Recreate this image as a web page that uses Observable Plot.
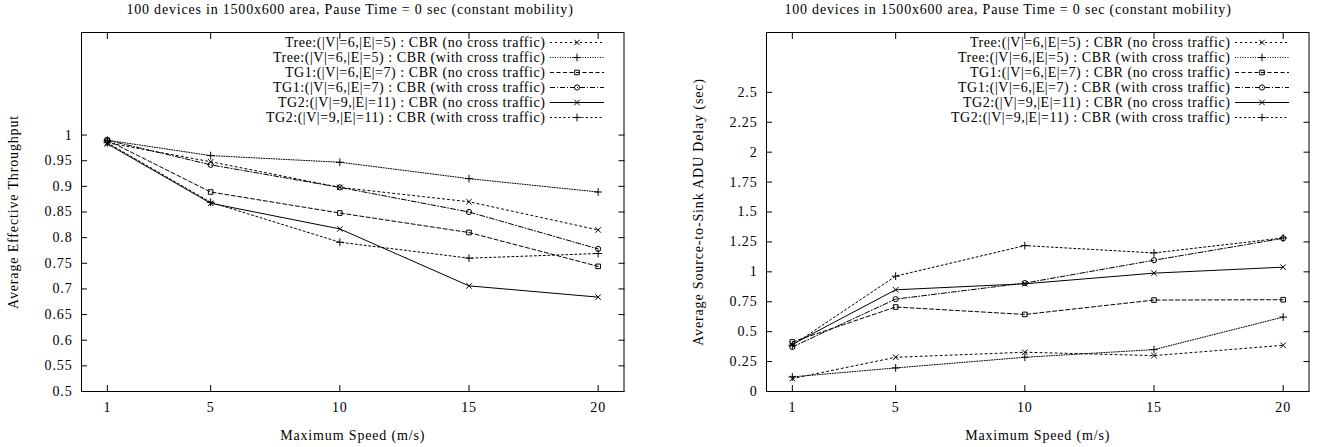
<!DOCTYPE html>
<html><head><meta charset="utf-8">
<script src="https://cdn.jsdelivr.net/npm/d3@7"></script>
<script src="https://cdn.jsdelivr.net/npm/@observablehq/plot@0.6"></script>
<style>
html,body{margin:0;padding:0;background:#fff;}
body{font-family:"Liberation Serif","Times New Roman",serif;color:#000;}
#wrap{position:relative;width:1327px;height:447px;overflow:hidden;}
.panel{position:absolute;top:0;}
.panel svg text{letter-spacing:0.85px;}
.title{position:absolute;top:2px;font-size:14px;line-height:16px;letter-spacing:0.8px;white-space:nowrap;transform:translateX(-50%);}
.legend{position:absolute;font-size:14px;letter-spacing:0.55px;}
.legend .row{display:flex;justify-content:flex-end;align-items:center;height:15px;line-height:15px;white-space:nowrap;}
.legend svg{margin-left:4px;display:block;}
</style></head><body><div id="wrap"></div>
<script>
// ---- data ----
const speeds = [1, 5, 10, 15, 20];
const seriesNames = [
  "Tree:(|V|=6,|E|=5) : CBR (no cross traffic)",
  "Tree:(|V|=6,|E|=5) : CBR (with cross traffic)",
  "TG1:(|V|=6,|E|=7) : CBR (no cross traffic)",
  "TG1:(|V|=6,|E|=7) : CBR (with cross traffic)",
  "TG2:(|V|=9,|E|=11) : CBR (no cross traffic)",
  "TG2:(|V|=9,|E|=11) : CBR (with cross traffic)"
];
// Left: Average Effective Throughput
const thrTreeNo   = [0.985, 0.948, 0.898, 0.870, 0.815];
const thrTreeWith = [0.990, 0.960, 0.947, 0.915, 0.889];
const thrTG1No    = [0.990, 0.889, 0.848, 0.810, 0.744];
const thrTG1With  = [0.990, 0.942, 0.898, 0.850, 0.778];
const thrTG2No    = [0.983, 0.867, 0.817, 0.706, 0.684];
const thrTG2With  = [0.985, 0.869, 0.791, 0.760, 0.769];
// Right: Average Source-to-Sink ADU Delay (sec)
const delTreeNo   = [0.108, 0.286, 0.328, 0.300, 0.386];
const delTreeWith = [0.122, 0.197, 0.286, 0.350, 0.622];
const delTG1No    = [0.414, 0.706, 0.644, 0.764, 0.767];
const delTG1With  = [0.372, 0.772, 0.906, 1.097, 1.280];
const delTG2No    = [0.394, 0.850, 0.900, 0.989, 1.039];
const delTG2With  = [0.386, 0.964, 1.219, 1.158, 1.283];

const titleText = "100 devices in 1500x600 area, Pause Time = 0 sec (constant mobility)";
const xLabel = "Maximum Speed (m/s)";
const yLabelLeft = "Average Effective Throughput";
const yLabelRight = "Average Source-to-Sink ADU Delay (sec)";
const yTicksLeft = [0.5,0.55,0.6,0.65,0.7,0.75,0.8,0.85,0.9,0.95,1];
const yTicksRight = [0,0.25,0.5,0.75,1,1.25,1.5,1.75,2,2.25,2.5];

// ---- styles (per series) ----
const dashes = ["2,3", "1,1.5", "4,2.5", "5,2,1,2", null, "2,2.5"];
const symbols = ["times", "plus", "square", "circle", "times", "plus"];
const symbolD3 = {times: d3.symbolTimes, plus: d3.symbolPlus, square: d3.symbolSquare, circle: d3.symbolCircle};
const R = 2.6;

function rowsFor(arrays) {
  const rows = [];
  arrays.forEach((vals, i) => vals.forEach((v, j) => rows.push({series: i, speed: speeds[j], value: v})));
  return rows;
}

const FRAME_W = 542.5, ML = 81, MT = 32, MB = 56, H = 447;

function makePanel({left, width, arrays, yDomain, yTicks, yLabel, titleX}) {
  const rows = rowsFor(arrays);
  const marks = [
    Plot.frame({stroke: "black", strokeWidth: 1}),
    Plot.axisX({ticks: speeds, tickSize: 0, tickPadding: 11, tickFormat: d => String(d),
      label: xLabel, labelAnchor: "center", labelArrow: "none", labelOffset: 48}),
    Plot.axisX({ticks: speeds, tickSize: -6, tickFormat: () => "", label: null}),
    Plot.axisX({anchor: "top", ticks: speeds, tickSize: -6, tickFormat: () => "", label: null}),
    Plot.axisY({ticks: yTicks, tickSize: 0, tickPadding: 9, tickFormat: d3.format("~g"),
      label: yLabel, labelAnchor: "center", labelArrow: "none", labelOffset: 73}),
    Plot.axisY({ticks: yTicks, tickSize: -6, tickFormat: () => "", label: null}),
    Plot.axisY({anchor: "right", ticks: yTicks, tickSize: -6, tickFormat: () => "", label: null})
  ];
  arrays.forEach((_, i) => {
    const d = rows.filter(r => r.series === i);
    marks.push(Plot.line(d, {x: "speed", y: "value", stroke: "black", strokeWidth: 1,
      strokeDasharray: dashes[i] || undefined}));
  });
  arrays.forEach((_, i) => {
    const d = rows.filter(r => r.series === i);
    marks.push(Plot.dot(d, {x: "speed", y: "value", symbol: () => symbols[i], r: R,
      stroke: "black", strokeWidth: 1, fill: "none"}));
  });
  const chart = Plot.plot({
    width, height: H,
    marginLeft: ML, marginRight: width - ML - FRAME_W, marginTop: MT, marginBottom: MB,
    style: {fontFamily: '"Liberation Serif","Times New Roman",serif', fontSize: "14px", color: "black", background: "white", overflow: "visible"},
    x: {domain: [0, 21]},
    y: {domain: yDomain},
    symbol: {type: "identity"},
    marks
  });
  const wrap = document.getElementById("wrap");
  const p = document.createElement("div");
  p.className = "panel";
  p.style.left = left + "px";
  p.appendChild(chart);
  wrap.appendChild(p);

  const t = document.createElement("div");
  t.className = "title";
  t.style.left = titleX + "px";
  t.textContent = titleText;
  wrap.appendChild(t);

  // legend
  const lg = d3.select(wrap).append("div").attr("class", "legend")
    .style("top", "35px")
    .style("right", (1327 - (left + ML + FRAME_W - 20)) + "px");
  seriesNames.forEach((name, i) => {
    const row = lg.append("div").attr("class", "row");
    row.append("span").text(name);
    const s = row.append("svg").attr("width", 54).attr("height", 13);
    s.append("line").attr("x1", 0).attr("x2", 54).attr("y1", 6.5).attr("y2", 6.5)
      .attr("stroke", "black").attr("stroke-width", 1)
      .attr("stroke-dasharray", dashes[i]);
    s.append("path").attr("transform", "translate(27,6.5)")
      .attr("d", d3.symbol(symbolD3[symbols[i]], Math.PI * R * R)())
      .attr("fill", "none").attr("stroke", "black").attr("stroke-width", 1);
  });
}

makePanel({left: 0, width: 663, arrays: [thrTreeNo, thrTreeWith, thrTG1No, thrTG1With, thrTG2No, thrTG2With],
  yDomain: [0.5, 1.2], yTicks: yTicksLeft, yLabel: yLabelLeft, titleX: 350});
makePanel({left: 685, width: 642, arrays: [delTreeNo, delTreeWith, delTG1No, delTG1With, delTG2No, delTG2With],
  yDomain: [0, 3], yTicks: yTicksRight, yLabel: yLabelRight, titleX: 1008});
</script></body></html>
